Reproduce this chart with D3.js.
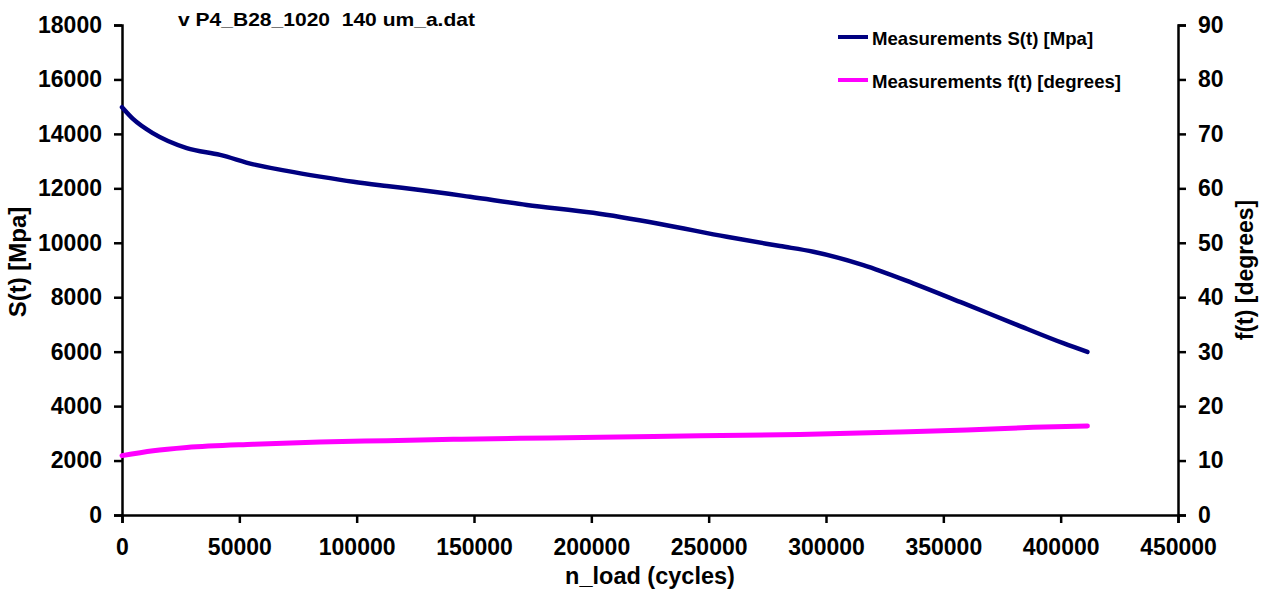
<!DOCTYPE html>
<html>
<head>
<meta charset="utf-8">
<script src="https://cdn.jsdelivr.net/npm/d3@7"></script>
<style>
  html, body { margin: 0; padding: 0; background: #fff; }
  svg { display: block; }
  text { font-family: "Liberation Sans", Arial, sans-serif; font-weight: bold; fill: #000; }
</style>
</head>
<body>
<svg id="chart" width="1266" height="589"></svg>
<script>
// Stiffness S(t) [MPa] against load cycles
const cyclesS = [0, 4800, 13300, 27600, 41800, 56000, 70200, 84400, 98600, 112800, 127000,
  148300, 172500, 200800, 229300, 257700, 280400, 294600, 315900, 337200, 358500, 379800, 401100, 411400];
const stiffness = [14980, 14540, 14020, 13480, 13230, 12880, 12640, 12430, 12240, 12085, 11940,
  11690, 11390, 11100, 10690, 10220, 9880, 9670, 9180, 8510, 7780, 7040, 6310, 5990];

// Phase angle f(t) [degrees] against load cycles
const cyclesF = [0, 13300, 27600, 56000, 84400, 112800, 141200, 169600, 203700, 246300,
  288900, 331500, 360000, 388300, 411400];
const phase = [10.9, 11.8, 12.4, 13.0, 13.4, 13.65, 13.9, 14.1, 14.27, 14.57,
  14.8, 15.25, 15.6, 16.1, 16.35];

const xTicks = [0, 50000, 100000, 150000, 200000, 250000, 300000, 350000, 400000, 450000];
const yLeftTicks = [0, 2000, 4000, 6000, 8000, 10000, 12000, 14000, 16000, 18000];
const yRightTicks = [0, 10, 20, 30, 40, 50, 60, 70, 80, 90];

const titleText = "v P4_B28_1020  140 um_a.dat";
const seriesNames = ["Measurements S(t) [Mpa]", "Measurements f(t) [degrees]"];
const xTitle = "n_load (cycles)";
const yLeftTitle = "S(t) [Mpa]";
const yRightTitle = "f(t) [degrees]";

const W = 1266, H = 589;
const margin = { top: 25, right: 88, bottom: 74, left: 122 };
const innerW = W - margin.left - margin.right;
const innerH = H - margin.top - margin.bottom;

const svg = d3.select("#chart");
const g = svg.append("g").attr("transform", `translate(${margin.left},${margin.top})`);

const x = d3.scaleLinear().domain([0, 450000]).range([0, innerW]);
const yL = d3.scaleLinear().domain([0, 18000]).range([innerH, 0]);
const yR = d3.scaleLinear().domain([0, 90]).range([innerH, 0]);

function styleAxis(sel) {
  sel.select(".domain").attr("stroke", "#000").attr("stroke-width", 2.5);
  sel.selectAll(".tick line").attr("stroke", "#000").attr("stroke-width", 2.5);
  sel.selectAll(".tick text").style("font-size", "23px");
}

g.append("g")
  .attr("transform", `translate(0,${innerH})`)
  .call(d3.axisBottom(x).tickValues(xTicks).tickFormat(d3.format("d")).tickSizeOuter(0).tickSize(8).tickPadding(16))
  .call(styleAxis);

g.append("g")
  .call(d3.axisLeft(yL).tickValues(yLeftTicks).tickFormat(d3.format("d")).tickSizeOuter(0).tickSize(8).tickPadding(12))
  .call(styleAxis);

g.append("g")
  .attr("transform", `translate(${innerW},0)`)
  .call(d3.axisRight(yR).tickValues(yRightTicks).tickFormat(d3.format("d")).tickSizeOuter(0).tickSize(8).tickPadding(12))
  .call(styleAxis);

// Data lines
const lineS = d3.line().x((d, i) => x(cyclesS[i])).y(d => yL(d)).curve(d3.curveMonotoneX);
const lineF = d3.line().x((d, i) => x(cyclesF[i])).y(d => yR(d)).curve(d3.curveMonotoneX);

g.append("path").datum(phase)
  .attr("d", lineF).attr("fill", "none")
  .attr("stroke", "#FF00FF").attr("stroke-width", 5).attr("stroke-linecap", "round");

g.append("path").datum(stiffness)
  .attr("d", lineS).attr("fill", "none")
  .attr("stroke", "#000080").attr("stroke-width", 4.5).attr("stroke-linecap", "round");

// Title
svg.append("text").attr("x", 178).attr("y", 26)
  .style("font-size", "19px").attr("xml:space", "preserve")
  .attr("textLength", 297).attr("lengthAdjust", "spacingAndGlyphs")
  .text(titleText);

// Legend
const legendColors = ["#000080", "#FF00FF"];
const legendY = [37, 80];
seriesNames.forEach((name, i) => {
  svg.append("line").attr("x1", 838).attr("x2", 868)
    .attr("y1", legendY[i]).attr("y2", legendY[i])
    .attr("stroke", legendColors[i]).attr("stroke-width", 4);
  svg.append("text").attr("x", 872).attr("y", legendY[i] + 8)
    .style("font-size", "18.6px").text(name);
});

// Axis titles
svg.append("text").attr("x", margin.left + innerW / 2).attr("y", 584)
  .attr("text-anchor", "middle").style("font-size", "23.5px").text(xTitle);

svg.append("text").attr("transform", `translate(26,262) rotate(-90)`)
  .attr("text-anchor", "middle").style("font-size", "24px").text(yLeftTitle);

svg.append("text").attr("transform", `translate(1253,270) rotate(-90)`)
  .attr("text-anchor", "middle").style("font-size", "23px").text(yRightTitle);
</script>
</body>
</html>
